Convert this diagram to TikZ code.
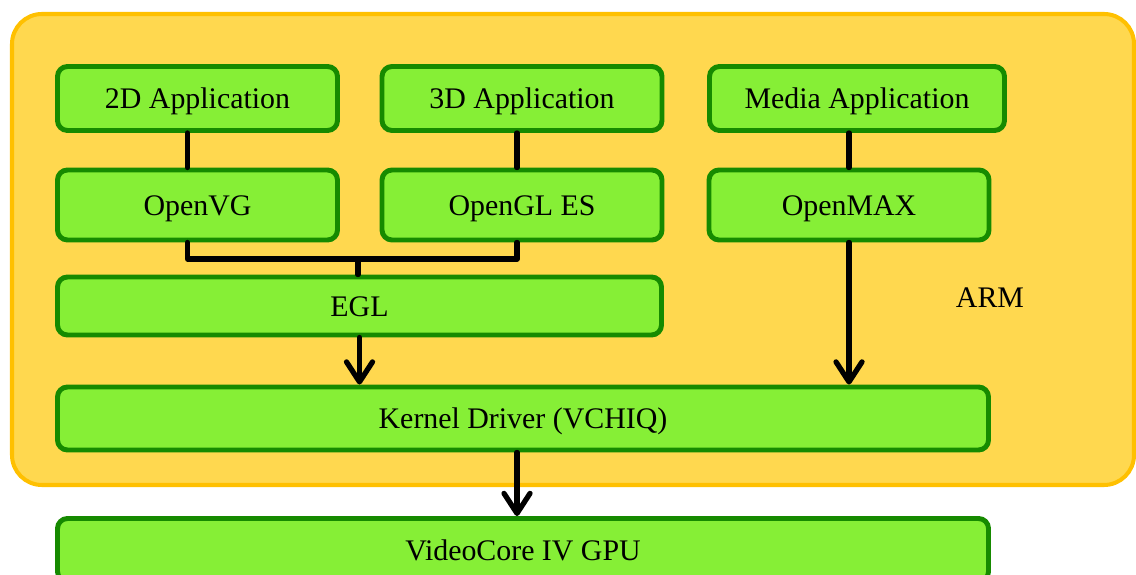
\documentclass[tikz,border=0pt]{standalone}
\usepackage{fontspec}
\setmainfont{Liberation Serif}
\definecolor{armFill}{HTML}{FFD84F}
\definecolor{armLine}{HTML}{FFC000}
\definecolor{capaFill}{HTML}{86EF36}
\definecolor{capaLine}{HTML}{168A00}
\usetikzlibrary{
	arrows.meta,
	positioning,
	calc
}
\tikzset{
	capa/.style={
		draw=capaLine,
		line width=2.8pt,
		rounded corners=2mm,
		fill=capaFill,
		align=center,
		inner sep=0pt,
		text height=11.5pt,
		text depth=0pt,
		font=\fontsize{17}{20}\selectfont
	},
	enlace/.style={
		line width=3pt,
		black,
		line cap=round,
		line join=round
	},
	flecha/.style={
		enlace,
		-{Straight Barb[length=4mm,width=5.2mm,line cap=round,line join=round]}
	}
}
\begin{document}
\begin{tikzpicture}
		\useasboundingbox (0,0) rectangle (22.72,-11.5);
		\draw[armLine, fill=armFill, line width=2.3pt, rounded corners=6mm] (0.24,-0.28) rectangle (22.68,-9.7);
		\node[font=\fontsize{17}{20}\selectfont] (arm) at (19.8,-5.96) {ARM};
		\node[capa, minimum width=5.6cm, minimum height=1.28cm] (app2d) at (3.95,-1.97) {2D Application};
		\node[capa, minimum width=5.6cm, minimum height=1.28cm] (app3d) at (10.44,-1.97) {3D Application};
		\node[capa, minimum width=5.9cm, minimum height=1.28cm] (appmedia) at (17.14,-1.97) {Media Application};
		\node[capa, minimum width=5.6cm, minimum height=1.4cm] (openvg) at (3.95,-4.1) {OpenVG};
		\node[capa, minimum width=5.6cm, minimum height=1.4cm] (opengl) at (10.44,-4.1) {OpenGL ES};
		\node[capa, minimum width=5.6cm, minimum height=1.4cm] (openmax) at (16.98,-4.1) {OpenMAX};
		\node[capa, minimum width=12.08cm, minimum height=1.16cm] (egl) at (7.19,-6.12) {EGL};
		\node[capa, minimum width=18.62cm, minimum height=1.26cm] (kernel) at (10.46,-8.37) {Kernel Driver (VCHIQ)};
		\node[capa, minimum width=18.62cm, minimum height=1.26cm] (gpu) at (10.46,-11.0) {VideoCore IV GPU};
		\coordinate (union) at (7.16,-5.18);
		\draw[enlace] ([xshift=-2mm]app2d.south) -- ([xshift=-2mm]openvg.north);
		\draw[enlace] ([xshift=-1mm]app3d.south) -- ([xshift=-1mm]opengl.north);
		\draw[enlace] (openmax.north |- appmedia.south) -- (openmax.north);
		\draw[enlace] ([xshift=-2mm]openvg.south) |- (union) -| ([xshift=-1mm]opengl.south);
		\draw[enlace] (union) -- (union |- egl.north);
		\draw[flecha] (egl.south) -- (egl.south |- kernel.north);
		\draw[flecha] (openmax.south) -- (openmax.south |- kernel.north);
		\draw[flecha] ([xshift=-1.2mm]kernel.south) -- ([xshift=-1.2mm]kernel.south |- gpu.north);
	\end{tikzpicture}
\end{document}
